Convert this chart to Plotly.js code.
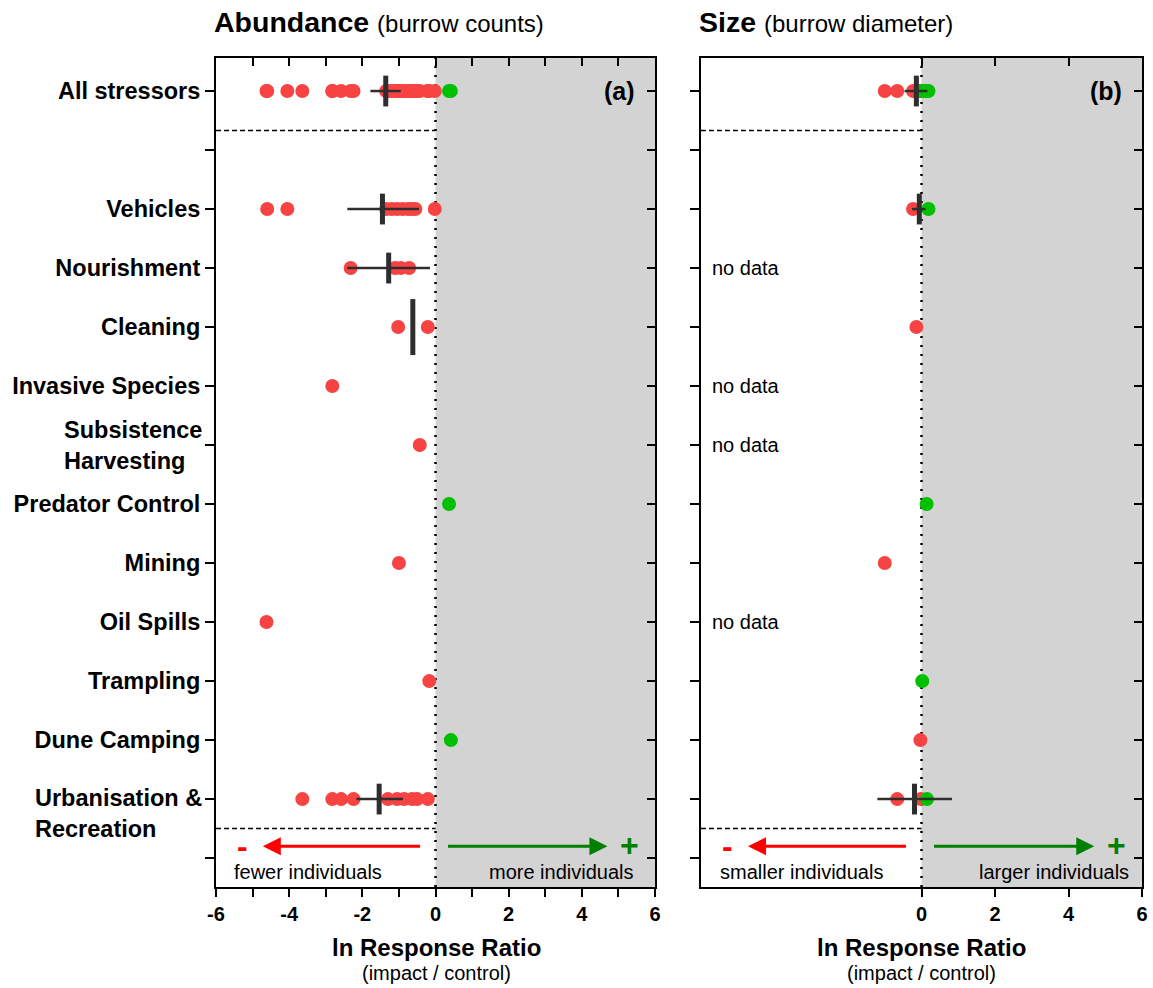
<!DOCTYPE html>
<html>
<head>
<meta charset="utf-8">
<script src="https://cdn.plot.ly/plotly-3.0.1.min.js"></script>
<style>body{margin:0;background:#fff}</style>
</head>
<body>
<div id="chart" style="width:1153px;height:988px"></div>
<script>
// ---------- DATA ----------
const rowLabels = ["All stressors", "", "Vehicles", "Nourishment", "Cleaning", "Invasive Species",
  "", "Predator Control", "Mining", "Oil Spills", "Trampling",
  "Dune Camping", "", ""];
const multiLineLabels = [[6, "Subsistence<br>Harvesting", 0], [12, "Urbanisation &<br>Recreation", -14]];

// Panel (a) abundance: individual effect sizes (row index, ln RR)
const abundanceRow = [0,0,0,0,0,0,0,0,0,0,0,0,0,0,0,0,0,0,0,0,0,0,0,0,0,0,0,0,0,0,0,0,0,
  2,2,2,2,2,2,2,2,2,2,
  3,3,3,3,
  4,4,
  5,
  6,
  7,
  8,
  9,
  10,
  11,
  12,12,12,12,12,12,12,12,12,12];
const abundanceValue = [-4.6,-4.62,-4.05,-3.64,-2.82,-2.82,-2.58,-2.32,-2.24,-1.35,-1.3,-1.2,-1.1,-1.05,-1.05,-1.02,-1.0,-0.95,-0.9,-0.86,-0.75,-0.72,-0.65,-0.64,-0.55,-0.5,-0.43,-0.21,-0.21,-0.17,-0.02,0.37,0.42,
  -4.6,-4.05,-1.35,-1.2,-1.05,-0.9,-0.75,-0.65,-0.55,-0.02,
  -2.32,-1.1,-0.95,-0.72,
  -1.02,-0.21,
  -2.82,
  -0.43,
  0.37,
  -1.0,
  -4.62,
  -0.17,
  0.42,
  -3.64,-2.82,-2.58,-2.24,-1.3,-1.05,-0.86,-0.64,-0.5,-0.21];
// Panel (a) means and confidence intervals
const abundanceMeanRow = [0, 2, 3, 4, 12];
const abundanceMean = [-1.36, -1.45, -1.28, -0.62, -1.54];
const abundanceLow  = [-1.78, -2.41, -2.41, null, -2.16];
const abundanceHigh = [-0.95, -0.45, -0.15, null, -0.89];

// Panel (b) size
const sizeRow = [0,0,0,0,0,0,0,0,0,0, 2,2, 4, 7, 8, 10, 11, 12,12,12];
const sizeValue = [-1.0,-0.66,-0.23,-0.14,-0.03,-0.02,0.02,0.14,0.15,0.19,
  -0.23,0.19, -0.14, 0.14, -1.0, 0.02, -0.03, -0.66,-0.02,0.15];
const sizeMeanRow = [0, 2, 12];
const sizeMean = [-0.14, -0.06, -0.19];
const sizeLow  = [-0.46, -0.26, -1.2];
const sizeHigh = [0.16, 0.11, 0.83];
const sizeNoDataRows = [3, 5, 6, 9];

const xTicksA = [-6,-5,-4,-3,-2,-1,0,1,2,3,4,5,6];
const xTickLabelsA = ["-6","","-4","","-2","","0","","2","","4","","6"];
const xTicksB = [0,2,4,6];
const xTickLabelsB = ["0","2","4","6"];

// ---------- STYLE ----------
const RED = '#f84343', GREEN = '#00c000', DARK = '#2e2e2e', GREY = '#d3d3d3';
const FONT = 'Liberation Sans, Arial, sans-serif';
const LABEL_SIZE = 23.5;
const W = 1153, H = 988;
const yp = px => 1 - px / H;
const xp = px => px / W;
const YR = [13.49, -0.56];

function pointTrace(vals, rows, xa, ya) {
  return {
    type: 'scatter', mode: 'markers', x: vals, y: rows, xaxis: xa, yaxis: ya,
    marker: {size: 14, opacity: 1, color: vals.map(v => v > 0 ? GREEN : RED), line: {width: 0}},
    showlegend: false, hoverinfo: 'x'
  };
}
function meanTrace(m, lo, hi, rows, xa, ya) {
  return {
    type: 'scatter', mode: 'markers', x: m, y: rows, xaxis: xa, yaxis: ya,
    marker: {symbol: 'line-ns', opacity: 1, size: m.map((v, i) => lo[i] === null ? 40 : 22),
      line: {width: 5, color: DARK}, color: DARK},
    error_x: {type: 'data', symmetric: false,
      array: m.map((v, i) => hi[i] === null ? 0 : hi[i] - v),
      arrayminus: m.map((v, i) => lo[i] === null ? 0 : v - lo[i]),
      color: DARK, thickness: 2.5, width: 0},
    showlegend: false, hoverinfo: 'x'
  };
}
function dummy(xa, ya) {
  return {type: 'scatter', mode: 'markers', x: [0], y: [0], xaxis: xa, yaxis: ya,
    marker: {opacity: 0}, showlegend: false, hoverinfo: 'skip'};
}

const data = [
  pointTrace(abundanceValue, abundanceRow, 'x', 'y'),
  meanTrace(abundanceMean, abundanceLow, abundanceHigh, abundanceMeanRow, 'x', 'y'),
  pointTrace(sizeValue, sizeRow, 'x2', 'y2'),
  meanTrace(sizeMean, sizeLow, sizeHigh, sizeMeanRow, 'x2', 'y2'),
  dummy('x3', 'y'), dummy('x', 'y3'), dummy('x4', 'y2'), dummy('x2', 'y4')
];

const domA = [xp(216), xp(655)];
const domB = [xp(701), xp(1142)];
const domY = [yp(887), yp(58)];

const baseX = {
  range: [-6, 6], showgrid: false, zeroline: false, showline: true, linewidth: 2, linecolor: 'black',
  ticks: 'outside', ticklen: 8, tickwidth: 2, tickcolor: 'black',
  tickfont: {family: FONT, size: 20, color: 'black', weight: 'bold'}, fixedrange: true
};
const baseY = {
  range: YR, tickmode: 'array', tickvals: rowLabels.map((l, i) => i),
  showgrid: false, zeroline: false, showline: true, linewidth: 2, linecolor: 'black',
  ticks: 'outside', ticklen: 9, tickwidth: 2, tickcolor: 'black', fixedrange: true
};
const mirrorX = {range: [-6, 6], side: 'top', ticks: 'inside', ticklen: 8, tickwidth: 2, tickcolor: 'black',
  showticklabels: false, showline: true, linewidth: 2, linecolor: 'black', showgrid: false, zeroline: false, fixedrange: true};
const mirrorY = {range: YR, side: 'right', ticks: 'inside', ticklen: 8, tickwidth: 2, tickcolor: 'black',
  tickmode: 'array', tickvals: rowLabels.map((l, i) => i),
  showticklabels: false, showline: true, linewidth: 2, linecolor: 'black', showgrid: false, zeroline: false, fixedrange: true};

const layout = {
  width: W, height: H, margin: {l: 0, r: 0, t: 0, b: 0},
  paper_bgcolor: 'white', plot_bgcolor: 'white', showlegend: false,
  font: {family: FONT, color: 'black'},
  xaxis: Object.assign({}, baseX, {domain: domA, anchor: 'y', tickmode: 'array', tickvals: xTicksA, ticktext: xTickLabelsA}),
  yaxis: Object.assign({}, baseY, {domain: domY, anchor: 'x', ticktext: rowLabels,
    tickfont: {family: FONT, size: LABEL_SIZE, color: 'black', weight: 'bold'}}),
  xaxis2: Object.assign({}, baseX, {domain: domB, anchor: 'y2', tickmode: 'array', tickvals: xTicksB, ticktext: xTickLabelsB}),
  yaxis2: Object.assign({}, baseY, {domain: domY, anchor: 'x2', showticklabels: false}),
  xaxis3: Object.assign({}, mirrorX, {overlaying: 'x', anchor: 'y', tickmode: 'array', tickvals: xTicksA}),
  yaxis3: Object.assign({}, mirrorY, {overlaying: 'y', anchor: 'x'}),
  xaxis4: Object.assign({}, mirrorX, {overlaying: 'x2', anchor: 'y2', tickmode: 'array', tickvals: xTicksB}),
  yaxis4: Object.assign({}, mirrorY, {overlaying: 'y2', anchor: 'x2'}),
  shapes: [],
  annotations: []
};

[['x', 'y'], ['x2', 'y2']].forEach(([xa, ya]) => {
  layout.shapes.push({type: 'rect', xref: xa, yref: ya, x0: 0, x1: 6, y0: YR[0], y1: YR[1],
    fillcolor: GREY, line: {width: 0}, layer: 'below'});
  layout.shapes.push({type: 'line', xref: xa, yref: ya, x0: 0, x1: 0, y0: YR[0], y1: YR[1],
    line: {color: 'black', width: 2.5, dash: '2px,7px'}, layer: 'below'});
  [0.67, 12.5].forEach(yv => layout.shapes.push({type: 'line', xref: xa + ' domain', yref: ya,
    x0: 0, x1: 1, y0: yv, y1: yv, line: {color: 'black', width: 1.5, dash: '5px,3px'}, layer: 'below'}));
});

const ann = layout.annotations;
// two-line row labels (left aligned lines)
multiLineLabels.forEach(([row, txt, shift]) => ann.push({xref: 'paper', yref: 'y', x: xp(204), y: row,
  xanchor: 'right', yanchor: 'middle', yshift: shift, text: txt, showarrow: false, align: 'left',
  font: {family: FONT, size: LABEL_SIZE, weight: 'bold'}}));
// panel titles
ann.push({xref: 'paper', yref: 'paper', x: xp(212), y: yp(22), xanchor: 'left', yanchor: 'middle', showarrow: false,
  text: "<b>Abundance</b> <span style='font-size:24px'>(burrow counts)</span>", font: {family: FONT, size: 28.5}});
ann.push({xref: 'paper', yref: 'paper', x: xp(697), y: yp(22), xanchor: 'left', yanchor: 'middle', showarrow: false,
  text: "<b>Size</b> <span style='font-size:24px'>(burrow diameter)</span>", font: {family: FONT, size: 28.5}});
// axis titles
[436.5, 921.5].forEach(cx => {
  ann.push({xref: 'paper', yref: 'paper', x: xp(cx), y: yp(947), xanchor: 'center', yanchor: 'middle', showarrow: false,
    text: '<b>ln Response Ratio</b>', font: {family: FONT, size: 24}});
  ann.push({xref: 'paper', yref: 'paper', x: xp(cx), y: yp(973), xanchor: 'center', yanchor: 'middle', showarrow: false,
    text: '(impact / control)', font: {family: FONT, size: 20}});
});
// panel letters
ann.push({xref: 'x', yref: 'y', x: 5.5, y: 0, xanchor: 'right', yanchor: 'middle', showarrow: false,
  text: '<b>(a)</b>', font: {family: FONT, size: 25}});
ann.push({xref: 'x2', yref: 'y2', x: 5.5, y: 0, xanchor: 'right', yanchor: 'middle', showarrow: false,
  text: '<b>(b)</b>', font: {family: FONT, size: 25}});
// no data
sizeNoDataRows.forEach(r => ann.push({xref: 'x2', yref: 'y2', x: -5.75, y: r, xanchor: 'left', yanchor: 'middle',
  showarrow: false, text: 'no data', font: {family: FONT, size: 20}}));
// direction arrows & captions
[['x', 'y', 'fewer individuals', 'more individuals', 5.48], ['x2', 'y2', 'smaller individuals', 'larger individuals', 5.7]]
.forEach(([xa, ya, neg, pos, posx]) => {
  ann.push({xref: xa, yref: ya, axref: xa, ayref: ya, x: -4.72, y: 12.8, ax: -0.38, ay: 12.8, text: '',
    showarrow: true, arrowhead: 2, arrowsize: 1.2, arrowwidth: 3, arrowcolor: '#ff0000'});
  ann.push({xref: xa, yref: ya, axref: xa, ayref: ya, x: 4.7, y: 12.8, ax: 0.3, ay: 12.8, text: '',
    showarrow: true, arrowhead: 2, arrowsize: 1.2, arrowwidth: 3, arrowcolor: '#008000'});
  ann.push({xref: xa, yref: ya, x: -5.28, y: 12.8, xanchor: 'center', yanchor: 'middle', showarrow: false,
    text: '<b>-</b>', font: {family: FONT, size: 32, color: '#ff0000'}});
  ann.push({xref: xa, yref: ya, x: 5.3, y: 12.8, xanchor: 'center', yanchor: 'middle', showarrow: false, yshift: 1,
    text: '<b>+</b>', font: {family: FONT, size: 32, color: '#008000'}});
  ann.push({xref: xa, yref: ya, x: -5.55, y: 13.24, xanchor: 'left', yanchor: 'middle', showarrow: false,
    text: neg, font: {family: FONT, size: 20}});
  ann.push({xref: xa, yref: ya, x: posx, y: 13.24, xanchor: 'right', yanchor: 'middle', showarrow: false,
    text: pos, font: {family: FONT, size: 20}});
});

Plotly.newPlot('chart', data, layout, {displayModeBar: false, staticPlot: true});
</script>
</body>
</html>
